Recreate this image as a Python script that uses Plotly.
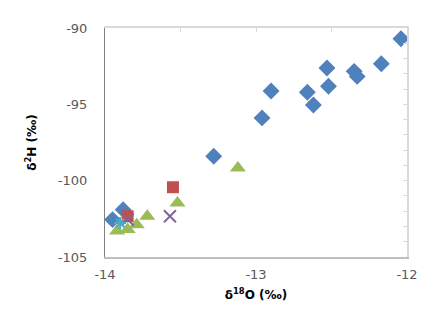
import plotly.graph_objects as go

# series values (delta18O, delta2H)
blue_x = [-12.04, -12.17, -12.35, -12.33, -12.53, -12.52, -12.66, -12.62, -12.90, -12.96, -13.28, -13.95, -13.88]
blue_y = [-90.70, -92.34, -92.84, -93.17, -92.62, -93.82, -94.21, -95.04, -94.13, -95.89, -98.40, -102.55, -101.90]

red_x = [-13.55, -13.85]
red_y = [-100.43, -102.33]

green_x = [-13.12, -13.52, -13.72, -13.79, -13.85, -13.92]
green_y = [-99.17, -101.46, -102.33, -102.88, -103.20, -103.30]

purple_x = [-13.57, -13.85]
purple_y = [-102.33, -102.55]

cyan_x = [-13.90]
cyan_y = [-102.77]

x_ticks = [-14, -13, -12]
y_ticks = [-105, -100, -95, -90]

fig = go.Figure()

fig.add_trace(go.Scatter(x=blue_x, y=blue_y, mode='markers', name='A',
                         marker=dict(symbol='diamond', size=13, color='#4F81BD')))
fig.add_trace(go.Scatter(x=red_x, y=red_y, mode='markers', name='B',
                         marker=dict(symbol='square', size=12, color='#C0504D')))
fig.add_trace(go.Scatter(x=green_x, y=green_y, mode='markers', name='C',
                         marker=dict(symbol='triangle-up', size=14, color='#9BBB59')))
fig.add_trace(go.Scatter(x=purple_x, y=purple_y, mode='markers', name='D',
                         marker=dict(symbol='x-thin', size=12, color='#8064A2',
                                     line=dict(width=2, color='#8064A2'))))
fig.add_trace(go.Scatter(x=cyan_x, y=cyan_y, mode='markers', name='E',
                         marker=dict(symbol='asterisk', size=10, color='#4BACC6',
                                     line=dict(width=2, color='#4BACC6'))))
# invisible trace for the top/right tick axes
fig.add_trace(go.Scatter(x=[-14], y=[-105], xaxis='x2', yaxis='y2', mode='markers',
                         marker=dict(opacity=0), hoverinfo='skip', showlegend=False))

font = dict(family='DejaVu Sans, Arial, sans-serif', size=13, color='#595959')
title_font = dict(family='DejaVu Sans, Arial, sans-serif', size=12, color='black')

fig.update_layout(
    width=436, height=336,
    margin=dict(l=97, r=37, t=20, b=87),
    paper_bgcolor='white', plot_bgcolor='white',
    showlegend=False,
    font=font,
    xaxis=dict(range=[-14, -12], tickvals=x_ticks, ticktext=[str(v) for v in x_ticks],
               showgrid=False, zeroline=False, showline=True, linecolor='#BFBFBF', linewidth=2,
               ticks='', ticklabelstandoff=4,
               title=dict(text='<b>δ<sup>18</sup>O (‰)</b>', font=title_font, standoff=10)),
    yaxis=dict(range=[-105, -90], tickvals=y_ticks, ticktext=[str(v) for v in y_ticks],
               showgrid=False, zeroline=False, showline=True, linecolor='#808080', linewidth=1,
               ticks='', ticklabelstandoff=14,
               title=dict(text='<b>δ<sup>2</sup>H (‰)</b>', font=title_font, standoff=18)),
    xaxis2=dict(overlaying='x', side='top', range=[-14, -12], dtick=0.5, tick0=-14,
                ticks='inside', ticklen=4, tickcolor='#D9D9D9', showticklabels=False,
                showgrid=False, zeroline=False, showline=True, linecolor='#D9D9D9', linewidth=2),
    yaxis2=dict(overlaying='y', side='right', range=[-105, -90], dtick=1, tick0=-105,
                ticks='inside', ticklen=4, tickcolor='#D9D9D9', showticklabels=False,
                showgrid=False, zeroline=False, showline=True, linecolor='#D9D9D9', linewidth=2),
)

fig.write_html("out.html")
